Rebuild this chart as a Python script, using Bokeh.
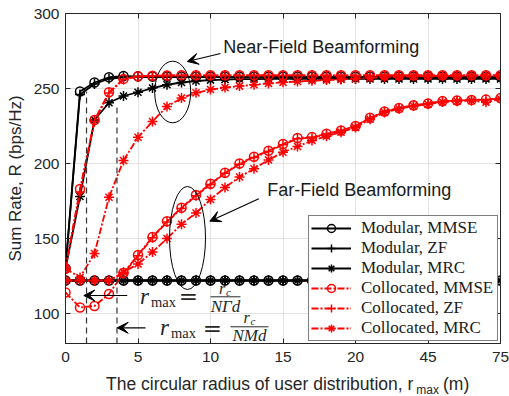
from bokeh.plotting import figure
from bokeh.layouts import column
from bokeh.models import (Range1d, FixedTicker, LinearAxis, Label, Arrow, VeeHead,
                          Legend, LegendItem, ColumnDataSource)
from bokeh.embed import file_html
from bokeh.resources import INLINE

# ---------------- data ----------------
# sample index along the (non-uniform) r_max axis; tick labels give r_max in metres
x_idx = [0, 1, 2, 3, 4, 5, 6, 7, 8, 9, 10, 11, 12, 13, 14, 15, 16, 17, 18, 19, 20,
         21, 22, 23, 24, 25, 26, 27, 28, 29, 30]
x_tick_pos = [0, 5, 10, 15, 20, 25, 30]
x_tick_labels = ["0", "5", "10", "15", "20", "45", "75"]
y_ticks = [100, 150, 200, 250, 300]

# near-field beamforming
mod_mmse_nf = [130, 248, 254, 257.5, 258.3, 258.1, 258, 257.9, 257.8, 257.8, 257.8, 257.8,
               257.8, 257.8, 257.8, 257.8, 257.8, 257.8, 257.8, 257.8, 257.8, 257.8, 257.8,
               257.8, 257.8, 257.8, 257.8, 257.8, 257.8, 257.8, 257.8]
mod_zf_nf = [130, 246, 253, 256.5, 257.5, 257.6, 257.6, 257.6, 257.6, 257.6, 257.6, 257.6,
             257.6, 257.6, 257.6, 257.6, 257.6, 257.6, 257.6, 257.6, 257.6, 257.6, 257.6,
             257.6, 257.6, 257.6, 257.6, 257.6, 257.6, 257.6, 257.6]
mod_mrc_nf = [130, 178, 229, 240.5, 245, 247.5, 250.3, 252.5, 254, 255, 255.6, 256, 256.2,
              256.3, 256.4, 256.4, 256.4, 256.4, 256.4, 256.4, 256.4, 256.4, 256.4, 256.4,
              256.4, 256.4, 256.4, 256.4, 256.4, 256.4, 256.4]
col_mmse_nf = [130, 183, 229, 247.5, 256.4, 258.2, 258.5, 258.7, 258.8, 258.8, 258.8, 258.8,
               258.8, 258.8, 258.8, 258.8, 258.8, 258.8, 258.8, 258.8, 258.8, 258.8, 258.8,
               258.8, 258.8, 258.8, 258.8, 258.8, 258.8, 258.8, 258.8]
col_zf_nf = [130, 181, 228, 247, 256, 258, 258.4, 258.6, 258.7, 258.7, 258.7, 258.7, 258.7,
             258.7, 258.7, 258.7, 258.7, 258.7, 258.7, 258.7, 258.7, 258.7, 258.7, 258.7,
             258.7, 258.7, 258.7, 258.7, 258.7, 258.7, 258.7]
col_mrc_nf = [130, 124, 140, 177.5, 202, 217.5, 228, 238, 243.6, 247.1, 249.3, 250.6, 251.6,
              252.5, 253.4, 254.1, 254.7, 255.2, 255.6, 256, 256.5, 257.1, 257.6, 257.9,
              258.1, 258.3, 258.4, 258.5, 258.6, 258.6, 258.7]

# far-field beamforming
mod_mmse_ff = [122, 122, 122, 122, 122, 122, 122, 122, 122, 122, 122, 122, 122, 122, 122, 122,
               122, 122, 122, 122, 122, 122, 122, 122, 122, 122, 122, 122, 122, 122, 122]
mod_zf_ff = [122, 122, 122, 122, 122, 122, 122, 122, 122, 122, 122, 122, 122, 122, 122, 122,
             122, 122, 122, 122, 122, 122, 122, 122, 122, 122, 122, 122, 122, 122, 122]
mod_mrc_ff = [122, 122, 122, 122, 122, 122, 122, 122, 122, 122, 122, 122, 122, 122, 122, 122,
              122, 122, 122, 122, 122, 122, 122, 122, 122, 122, 122, 122, 122, 122, 122]
col_mmse_ff = [114, 104, 105, 113, 127, 139, 151, 161.5, 170.5, 179, 186.5, 193.8, 200, 204.5,
               208.5, 213, 217, 217.6, 219.8, 222, 225, 230.5, 234.7, 237, 238.8, 240, 241.6,
               242, 242.4, 242.6, 243.6]
col_zf_ff = [122, 122, 122, 122, 126.5, 138.5, 150.5, 161, 170, 178.5, 186, 193.5, 199.5, 204,
             208, 212.5, 216.5, 217.3, 219.5, 221.8, 224.8, 230.3, 234.5, 236.8, 238.6, 239.8,
             241.4, 241.9, 242.3, 242.5, 243.4]
col_mrc_ff = [122, 122, 122, 122, 127.5, 133, 141, 150, 159.5, 167, 176, 184, 191, 196.5, 202.4,
              207.5, 211.3, 215.3, 218.2, 220.9, 224, 229.5, 234, 236.5, 238.3, 239.5, 241,
              241.5, 241.9, 240.8, 243.2]

# r_max thresholds (dashed markers), in axis-index units
vline_x = [1.45, 3.55]
vline_top = [248, 240]

legend_labels = ["Modular, MMSE", "Modular, ZF", "Modular, MRC",
                 "Collocated, MMSE", "Collocated, ZF", "Collocated, MRC"]

# ---------------- figure ----------------
W, H = 509, 396
XLAB_H = 22                     # strip under the main figure holding the x-axis title
L, R, T, B = 65, 500, 13, 343   # frame edges in page pixels
X0, X1, Y0, Y1 = 0, 30, 80, 300


def X(px):
    return X0 + (px - L) * (X1 - X0) / (R - L)


def Y(py):
    return Y1 - (py - T) * (Y1 - Y0) / (B - T)


p = figure(width=W, height=H - XLAB_H, x_range=Range1d(X0, X1), y_range=Range1d(Y0, Y1),
           output_backend="svg", toolbar_location=None, title=None,
           min_border_left=L, min_border_right=W - R, min_border_top=T,
           min_border_bottom=H - XLAB_H - B)
p.background_fill_color = "white"
p.border_fill_color = "white"
p.outline_line_color = "#262626"

AX = "#262626"
xa = p.xaxis[0]
ya = p.yaxis[0]
xa.ticker = FixedTicker(ticks=x_tick_pos)
xa.major_label_overrides = {k: v for k, v in zip(x_tick_pos, x_tick_labels)}
ya.ticker = FixedTicker(ticks=y_ticks)
for ax in (xa, ya):
    ax.major_tick_in = 5
    ax.major_tick_out = 0
    ax.minor_tick_line_color = None
    ax.axis_line_color = AX
    ax.major_tick_line_color = AX
    ax.major_label_text_font = "Liberation Sans"
    ax.major_label_text_font_size = "15.5px"
    ax.major_label_text_color = AX
xa.major_label_standoff = 8
ya.major_label_standoff = 6
ya.axis_label = "Sum Rate, R (bps/Hz)"
ya.axis_label_text_font = "Liberation Sans"
ya.axis_label_text_font_size = "17px"
ya.axis_label_text_font_style = "normal"
ya.axis_label_text_color = AX
ya.axis_label_standoff = 6

for ticks, place in ((y_ticks, "right"), (x_tick_pos, "above")):
    ax = LinearAxis(ticker=FixedTicker(ticks=ticks), major_tick_in=5, major_tick_out=0,
                    minor_tick_line_color=None, axis_line_color=AX,
                    major_tick_line_color=AX, major_label_text_font_size="1px",
                    major_label_text_color=None, major_label_standoff=0)
    p.add_layout(ax, place)

p.xgrid.ticker = FixedTicker(ticks=x_tick_pos)
p.ygrid.ticker = FixedTicker(ticks=y_ticks)
p.grid.grid_line_color = "#e2e2e2"
p.grid.grid_line_width = 1

MSIZE = {"circle": 9, "cross": 10, "asterisk": 10}


def series(y, color, marker, dash):
    src = ColumnDataSource(dict(x=x_idx, y=y))
    ln = p.line("x", "y", source=src, line_color=color, line_width=1.8, line_dash=dash)
    sc = p.scatter("x", "y", source=src, marker=marker, size=MSIZE[marker],
                   line_color=color, fill_color=None, line_width=1.5)
    return [ln, sc]


BLK = "black"
RED = "#ff0000"
DD = "7 2 2 2"
markers = ["circle", "cross", "asterisk"]

mod_nf = [series(v, BLK, m, "solid") for v, m in zip([mod_mmse_nf, mod_zf_nf, mod_mrc_nf], markers)]
for v, m in zip([mod_mmse_ff, mod_zf_ff, mod_mrc_ff], markers):
    series(v, BLK, m, "solid")
col_nf = [series(v, RED, m, DD) for v, m in zip([col_mmse_nf, col_zf_nf, col_mrc_nf], markers)]
for v, m in zip([col_mmse_ff, col_zf_ff, col_mrc_ff], markers):
    series(v, RED, m, DD)

# dashed threshold lines
p.segment(x0=vline_x, y0=[Y0, Y0], x1=vline_x, y1=vline_top, line_color="#333333",
          line_width=1.2, line_dash="6 4")

# ellipses around groups
p.ellipse(x=[X(172.2), X(187)], y=[Y(91.5), Y(237.5)],
          width=[X(172.2 + 36) - X(172.2), X(187 + 36) - X(187)],
          height=[Y(91.5) - Y(91.5 + 61.6), Y(237.5) - Y(237.5 + 103)],
          fill_color=None, line_color="black", line_width=1)


def arrow(x0, y0, x1, y1):
    p.add_layout(Arrow(end=VeeHead(size=11, fill_color="black", line_color="black",
                                   line_width=1),
                       x_start=X(x0), y_start=Y(y0), x_end=X(x1), y_end=Y(y1),
                       line_color="black", line_width=1.2))


def bar(x0, x1, y):
    p.add_layout(Arrow(end=None, x_start=X(x0), y_start=Y(y), x_end=X(x1), y_end=Y(y),
                       line_color="#262626", line_width=1))


def lab(px, pmid, text, size, font="Liberation Sans", style="normal", align="left",
        color="#1a1a1a"):
    """text whose vertical middle sits at page-pixel row pmid"""
    p.add_layout(Label(x=X(px), y=Y(pmid), text=text, text_font=font,
                       text_font_size=size, text_font_style=style, text_align=align,
                       text_baseline="middle", text_color=color))


arrow(220, 53, 186.7, 61)
arrow(258.3, 198.3, 209.3, 220.7)
arrow(126.7, 295, 83.3, 295)
arrow(145, 327.3, 116.7, 327.3)

lab(222.7, 46, "Near-Field Beamforming", "18px")
lab(266.7, 189.5, "Far-Field Beamforming", "18px")

SER = "Liberation Serif"
MC = "#262626"
# formula 1: r_max = r_c / (N Gamma d)
lab(139.5, 296.2, "r", "23px", SER, "italic", color=MC)
lab(150.5, 301.2, "max", "14.5px", SER, color=MC)
lab(188, 295.3, "=", "23px", "DejaVu Serif", align="center", color=MC)
lab(218.5, 288.4, "r", "16px", SER, "italic", color=MC)
lab(225.5, 291.5, "c", "11px", SER, "italic", color=MC)
bar(210, 240, 296.3)
lab(225, 305.5, "NΓd", "17px", SER, "italic", align="center", color=MC)
# formula 2: r_max = r_c / (N M d)
lab(159.5, 327.2, "r", "23px", SER, "italic", color=MC)
lab(170.5, 332.2, "max", "14.5px", SER, color=MC)
lab(212, 327.3, "=", "23px", "DejaVu Serif", align="center", color=MC)
lab(243, 317.2, "r", "16px", SER, "italic", color=MC)
lab(250, 320.4, "c", "11px", SER, "italic", color=MC)
bar(230, 268, 326.3)
lab(249, 334.7, "NMd", "17px", SER, "italic", align="center", color=MC)

items = [LegendItem(label=t, renderers=r) for t, r in zip(legend_labels, mod_nf + col_nf)]
legend = Legend(items=items, location=(308 - L, B - 341), label_text_font=SER,
                label_text_font_size="17px", label_text_color="#1a1a1a",
                glyph_width=40, glyph_height=20, label_height=20, label_standoff=10,
                label_width=134, padding=2, spacing=0, margin=0,
                border_line_color="black", border_line_width=1,
                background_fill_color="white", background_fill_alpha=1)
p.add_layout(legend)

# ---------------- x-axis title strip (page-pixel coordinates) ----------------
top = H - XLAB_H
q = figure(width=W, height=XLAB_H, x_range=Range1d(0, W), y_range=Range1d(H, top),
           output_backend="svg", toolbar_location=None, title=None, x_axis_type=None,
           y_axis_type=None, min_border=0, min_border_left=0, min_border_right=0,
           min_border_top=0, min_border_bottom=0)
q.outline_line_color = None
q.grid.visible = False
q.background_fill_color = "white"
q.border_fill_color = "white"


def qlab(px, pmid, text, size, align="left"):
    q.add_layout(Label(x=px, y=pmid, text=text, text_font="Liberation Sans",
                       text_font_size=size, text_align=align,
                       text_baseline="middle", text_color=AX))


qlab(407, 383.3, "The circular radius of user distribution, r", "17.5px", align="right")
qlab(410.5, 389, "max", "12px")
qlab(441.7, 383.3, "(m)", "17.5px")

layout = column(p, q, spacing=0)
open("out.html", "w").write(file_html(layout, INLINE))
